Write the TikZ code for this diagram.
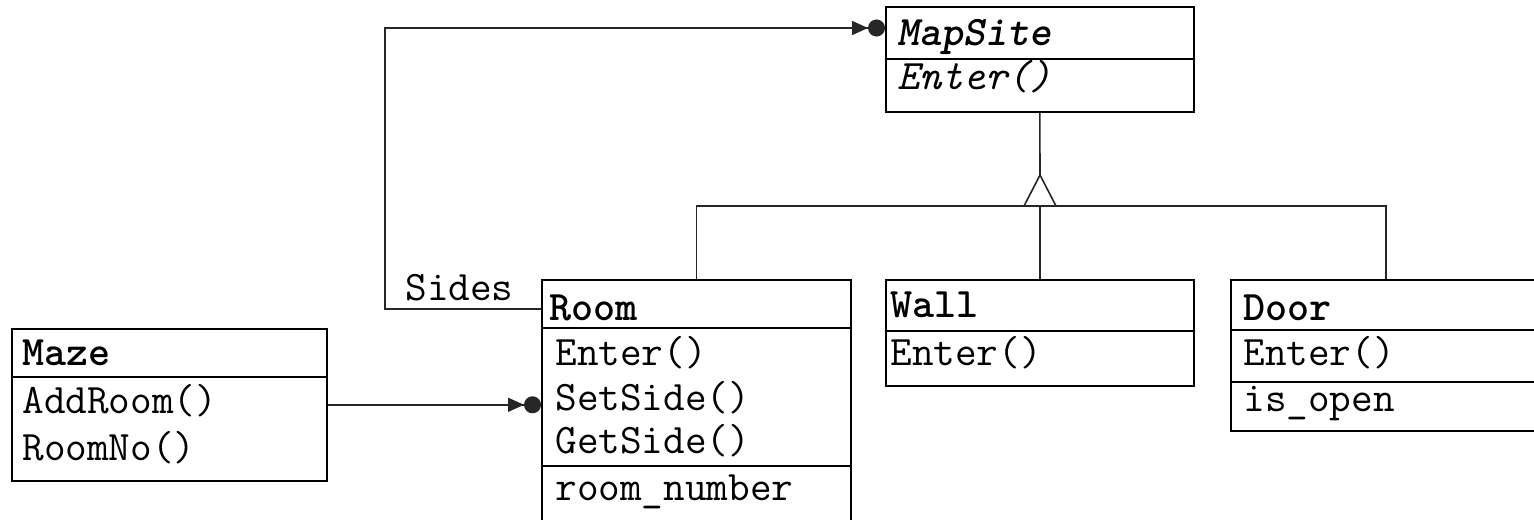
\documentclass[tikz,border=0pt]{standalone}
\usepackage{fontspec}
\usetikzlibrary{arrows.meta}
\tikzset{
  cls/.style={draw=black, line width=0.8pt, rectangle, inner sep=0pt, anchor=north west},
  txt/.style={anchor=base west, inner sep=0pt, font=\fontsize{21}{24}\selectfont\ttfamily},
  ttl/.style={txt, font=\fontsize{21}{24}\selectfont\ttfamily\bfseries},
  div/.style={line width=0.8pt},
  conn/.style={line width=0.8pt, draw=black!85},
  assoc/.style={conn, -{Triangle[length=8pt,width=7pt]Circle[length=8.5pt]}},
}
\begin{document}
\begin{tikzpicture}[x=0.5pt,y=-0.5pt]
\useasboundingbox (0,0) rectangle (1534,519);
% boxes
\node[cls, minimum width=154pt, minimum height=52.5pt] (mapsite) at (885,6) {};
\node[cls, minimum width=154.5pt, minimum height=126pt] (room) at (541,279) {};
\node[cls, minimum width=154pt, minimum height=53pt] (wall) at (885,279) {};
\node[cls, minimum width=155pt, minimum height=75.5pt] (door) at (1230,279) {};
\node[cls, minimum width=157.5pt, minimum height=76pt] (maze) at (11,328) {};
% dividers
\draw[div] (885,59) -- (1193,59);
\draw[div] (541,328) -- (850,328);
\draw[div] (541,466) -- (850,466);
\draw[div] (885,331) -- (1193,331);
\draw[div] (1230,330) -- (1540,330);
\draw[div] (1230,382) -- (1540,382);
\draw[div] (11,377) -- (326,377);
% texts
\node[ttl, font=\fontsize{21}{24}\selectfont\ttfamily\bfseries\itshape] (t1) at (897,46) {MapSite};
\node[txt, font=\fontsize{21}{24}\selectfont\ttfamily\itshape] (t2) at (897,90) {Enter()};
\node[ttl] (t3) at (549,320) {Room};
\node[txt] (t4) at (555,365) {Enter()};
\node[txt] (t5) at (555,410) {SetSide()};
\node[txt] (t6) at (555,453) {GetSide()};
\node[txt] (t7) at (555,500) {room\_number};
\node[ttl] (t8) at (890,317) {Wall};
\node[txt] (t9) at (890,365) {Enter()};
\node[ttl] (t10) at (1243,320) {Door};
\node[txt] (t11) at (1243,365) {Enter()};
\node[txt] (t12) at (1243,411) {is\_open};
\node[ttl] (t13) at (22,365) {Maze};
\node[txt] (t14) at (22,413) {AddRoom()};
\node[txt] (t15) at (22,460) {RoomNo()};
\node[txt] (sides) at (405,300) {Sides};
% inheritance
\coordinate (apex) at (1040,175);
\coordinate (bl) at (1024,206);
\coordinate (br) at (1056,206);
\draw[conn] (mapsite.south) -- (apex);
\draw[conn] (apex) -- (bl) -- (br) -- cycle;
\draw[conn] (room.north) |- (br) -| (door.north);
\draw[conn] (wall.north) -- (wall.north |- br);
% associations
\draw[assoc] ([yshift=-15pt]room.north west) -- ++(-156,0) |- ([yshift=-11pt]mapsite.north west);
\draw[assoc] (maze.east) -- (room.west |- maze.east);
\end{tikzpicture}
\end{document}
